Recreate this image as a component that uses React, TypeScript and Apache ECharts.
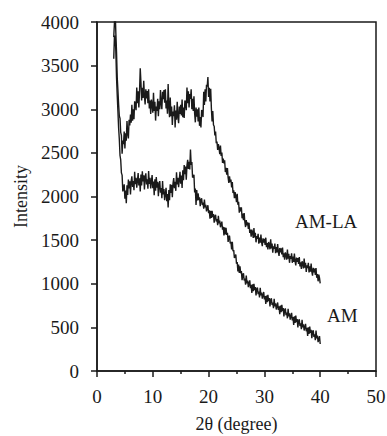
import React, { useEffect, useRef } from "react";
import * as echarts from "echarts";

// 2θ sampling grid for the traces (degrees): 3.000, 3.125, ... 40.000
const X_START = 3;
const X_STEP = 0.125;

// AM-LA trace intensity (one row per degree, 8 samples each)
const amLaValues = [
  3827, 3988, 4139, 3876, 3656, 3364, 3218, 3053, // 3
  2923, 2895, 2735, 2701, 2490, 2640, 2600, 2745, // 4
  2550, 2725, 2640, 2865, 2720, 2665, 2880, 2815, // 5
  2940, 2845, 3050, 2870, 3000, 2885, 3090, 3065, // 6
  2990, 3250, 3070, 3205, 3020, 3205, 3470, 3310, // 7
  3100, 3245, 3130, 3325, 3150, 3055, 3230, 3125, // 8
  3210, 3070, 3230, 3010, 3100, 2945, 3110, 3060, // 9
  2960, 3190, 2980, 3085, 2870, 3030, 2980, 3120, // 10
  2920, 3090, 3000, 3220, 3070, 3000, 3200, 3115, // 11
  3220, 3075, 3230, 3010, 3100, 2950, 3290, 3040, // 12
  2910, 3135, 2920, 3030, 2820, 2975, 2920, 3045, // 13
  2790, 2985, 2880, 3085, 2920, 2840, 3030, 2945, // 14
  3050, 2930, 3110, 2910, 3020, 2900, 3100, 3070, // 15
  2990, 3250, 3070, 3205, 3020, 3175, 3120, 3230, // 16
  3000, 3120, 2980, 3150, 2950, 2850, 3020, 2915, // 17
  3000, 2860, 3020, 2810, 2910, 2790, 2990, 2975, // 18
  2910, 3200, 3050, 3230, 3090, 3280, 3260, 3370, // 19
  3140, 3245, 3090, 3235, 3010, 2860, 2980, 2820, // 20
  2805, 2700, 2745, 2610, 2630, 2535, 2600, 2555, // 21
  2485, 2585, 2465, 2505, 2385, 2435, 2380, 2415, // 22
  2280, 2330, 2250, 2325, 2215, 2155, 2230, 2165, // 23
  2195, 2105, 2165, 2040, 2070, 1980, 2050, 2005, // 24
  1935, 2030, 1905, 1940, 1815, 1875, 1830, 1875, // 25
  1750, 1805, 1730, 1810, 1705, 1650, 1730, 1670, // 26
  1705, 1628, 1700, 1582, 1620, 1540, 1620, 1585, // 27
  1525, 1637, 1530, 1583, 1475, 1547, 1515, 1573, // 28
  1460, 1530, 1470, 1565, 1475, 1430, 1520, 1470, // 29
  1515, 1446, 1528, 1419, 1465, 1392, 1478, 1449, // 30
  1395, 1510, 1405, 1460, 1355, 1430, 1400, 1460, // 31
  1350, 1420, 1360, 1455, 1365, 1320, 1410, 1360, // 32
  1405, 1335, 1415, 1305, 1350, 1275, 1360, 1330, // 33
  1275, 1391, 1287, 1343, 1240, 1316, 1287, 1348, // 34
  1240, 1310, 1250, 1345, 1255, 1210, 1300, 1250, // 35
  1295, 1226, 1307, 1198, 1245, 1171, 1258, 1229, // 36
  1175, 1290, 1185, 1240, 1135, 1210, 1180, 1240, // 37
  1130, 1199, 1138, 1232, 1140, 1093, 1182, 1131, // 38
  1175, 1102, 1180, 1068, 1110, 1028, 1105, 1067, // 39
  1005, // 40
];

// AM trace intensity (one row per degree, 8 samples each)
const amValues = [
  3579, 3833, 3844, 3668, 3364, 3162, 2977, 2785, // 3
  2656, 2470, 2419, 2271, 2245, 2058, 2089, 2140, // 4
  1976, 2067, 1924, 2128, 2017, 2194, 2092, 2174, // 5
  2022, 2176, 2231, 2110, 2178, 2073, 2282, 2141, // 6
  2215, 2101, 2184, 2268, 2126, 2210, 2059, 2251, // 7
  2127, 2289, 2172, 2244, 2082, 2224, 2266, 2138, // 8
  2198, 2088, 2292, 2145, 2215, 2093, 2169, 2245, // 9
  2096, 2172, 2014, 2198, 2067, 2224, 2102, 2169, // 10
  2002, 2138, 2176, 2043, 2098, 1980, 2177, 2023, // 11
  2085, 1958, 2029, 2100, 1946, 2027, 1874, 2073, // 12
  1957, 2139, 2042, 2134, 1992, 2151, 2211, 2095, // 13
  2168, 2065, 2277, 2138, 2215, 2106, 2194, 2283, // 14
  2146, 2239, 2099, 2301, 2187, 2361, 2257, 2342, // 15
  2192, 2356, 2421, 2315, 2398, 2310, 2537, 2363, // 16
  2395, 2218, 2229, 2250, 2046, 2092, 1904, 2073, // 17
  1955, 2035, 1960, 1990, 1890, 1962, 1980, 1903, // 18
  1930, 1860, 1965, 1875, 1905, 1830, 1865, 1900, // 19
  1810, 1843, 1745, 1837, 1755, 1837, 1765, 1798, // 20
  1700, 1772, 1790, 1713, 1740, 1672, 1780, 1693, // 21
  1725, 1648, 1680, 1712, 1620, 1653, 1555, 1647, // 22
  1565, 1640, 1560, 1585, 1480, 1542, 1550, 1463, // 23
  1480, 1392, 1480, 1373, 1385, 1295, 1315, 1335, // 24
  1230, 1250, 1140, 1220, 1125, 1200, 1120, 1145, // 25
  1040, 1108, 1120, 1037, 1060, 990, 1095, 1005, // 26
  1035, 962, 1000, 1038, 950, 987, 895, 993, // 27
  915, 999, 928, 961, 865, 939, 957, 881, // 28
  910, 844, 953, 866, 900, 829, 867, 906, // 29
  820, 859, 768, 866, 790, 874, 802, 836, // 30
  740, 814, 833, 756, 785, 719, 827, 741, // 31
  775, 705, 745, 785, 700, 740, 650, 750, // 32
  675, 759, 688, 721, 625, 699, 717, 641, // 33
  670, 604, 713, 626, 660, 589, 627, 666, // 34
  580, 619, 528, 626, 550, 634, 562, 596, // 35
  500, 574, 593, 516, 545, 479, 587, 501, // 36
  535, 464, 503, 541, 455, 494, 402, 501, // 37
  425, 509, 438, 471, 375, 449, 467, 391, // 38
  420, 354, 463, 374, 405, 330, 365, 400, // 39
  310, // 40
];

const xTicks = { min: 0, max: 50, interval: 10 };
const yTicks = { min: 0, max: 4000, interval: 500 };

const seriesLabels = ["AM-LA", "AM"];

const FONT = "Liberation Serif";
const INK = "#1a1a1a";

function toPairs(vals: number[]) {
  return vals.map((v, i) => [X_START + i * X_STEP, v]);
}

export default function App() {
  const ref = useRef<HTMLDivElement>(null);

  useEffect(() => {
    if (!ref.current) return;
    const chart = echarts.init(ref.current, null, { renderer: "svg" });
    const lineStyle = { color: INK, width: 1.5 };
    const labelStyle = { color: INK, fontFamily: FONT, fontSize: 19 };
    const nameStyle = { color: INK, fontFamily: FONT, fontSize: 18 };
    chart.setOption({
      animation: false,
      backgroundColor: "#ffffff",
      textStyle: { fontFamily: FONT },
      grid: {
        left: 97,
        top: 22,
        width: 279,
        height: 349,
        show: true,
        borderColor: INK,
        borderWidth: 1.5,
        containLabel: false,
        outerBoundsMode: "none",
      },
      xAxis: {
        type: "value",
        min: xTicks.min,
        max: xTicks.max,
        interval: xTicks.interval,
        name: "2θ (degree)",
        nameLocation: "middle",
        nameGap: 44,
        nameTextStyle: nameStyle,
        axisLine: { show: true, onZero: false, lineStyle },
        axisTick: { show: true, inside: false, length: 6, lineStyle },
        minorTick: { show: true, splitNumber: 2, length: 3, lineStyle },
        splitLine: { show: false },
        axisLabel: { ...labelStyle, margin: 16, formatter: (v: number) => String(v) },
      },
      yAxis: {
        type: "value",
        min: yTicks.min,
        max: yTicks.max,
        interval: yTicks.interval,
        name: "Intensity",
        nameLocation: "middle",
        nameGap: 66,
        nameTextStyle: nameStyle,
        axisLine: { show: true, onZero: false, lineStyle },
        axisTick: { show: true, inside: false, length: 6, lineStyle },
        splitLine: { show: false },
        axisLabel: { ...labelStyle, margin: 18, formatter: (v: number) => String(v) },
      },
      series: [
        {
          name: seriesLabels[0],
          type: "line",
          data: toPairs(amLaValues),
          showSymbol: false,
          symbol: "none",
          lineStyle: { color: INK, width: 1.4 },
          clip: true,
        },
        {
          name: seriesLabels[1],
          type: "line",
          data: toPairs(amValues),
          showSymbol: false,
          symbol: "none",
          lineStyle: { color: INK, width: 1.4 },
          clip: true,
        },
      ],
      graphic: [
        {
          type: "text",
          x: 295,
          y: 221,
          style: { text: seriesLabels[0], font: `19px "${FONT}"`, fill: INK, verticalAlign: "middle" },
        },
        {
          type: "text",
          x: 327,
          y: 315,
          style: { text: seriesLabels[1], font: `19px "${FONT}"`, fill: INK, verticalAlign: "middle" },
        },
      ],
    });
    return () => chart.dispose();
  }, []);

  return (
    <div
      ref={ref}
      style={{ position: "fixed", left: 0, top: 0, width: 387, height: 436 }}
    />
  );
}
